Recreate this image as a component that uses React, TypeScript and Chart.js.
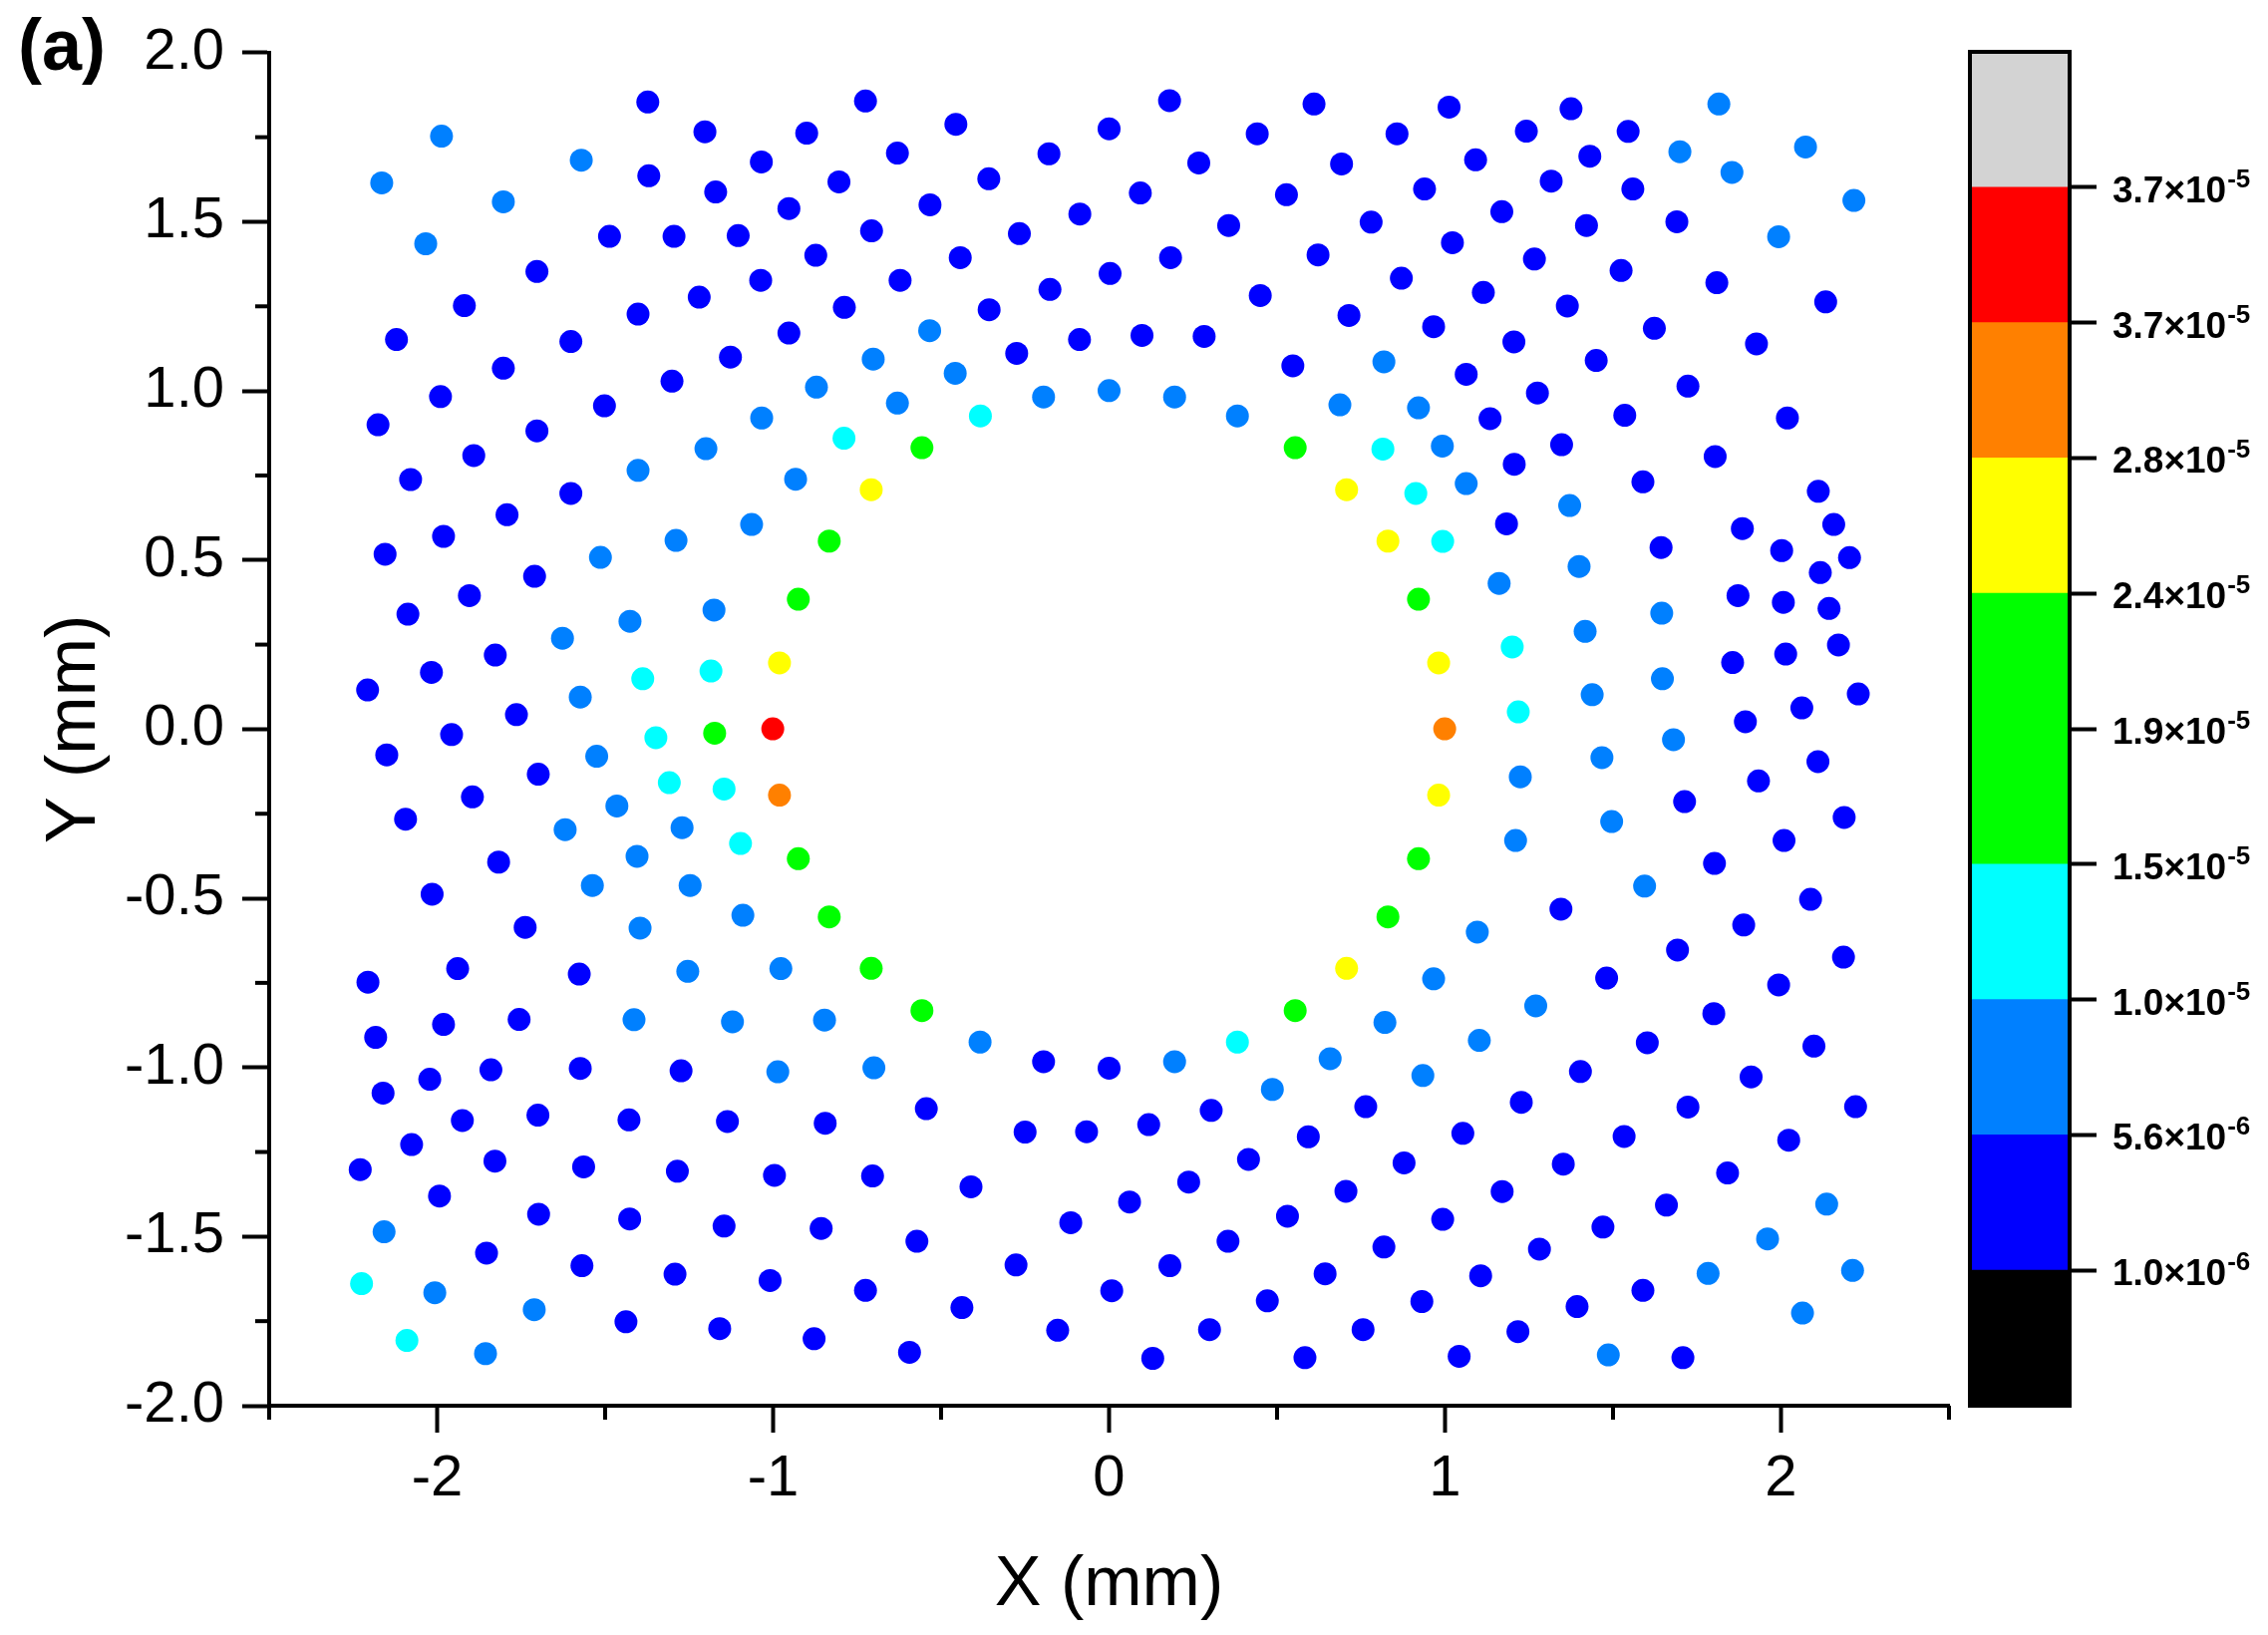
import { useEffect, useRef } from "react";
import Chart from "chart.js/auto";

const FONT = '"Liberation Sans", Arial, sans-serif';

const xMajorTicks = [-2, -1, 0, 1, 2];
const xMinorTicks = [-2.5, -1.5, -0.5, 0.5, 1.5, 2.5];
const yMajorTicks = [-2, -1.5, -1, -0.5, 0, 0.5, 1, 1.5, 2];
const yMinorTicks = [-1.75, -1.25, -0.75, -0.25, 0.25, 0.75, 1.25, 1.75];

// points, grouped by colour band [x, y] in mm
const bluePoints = [
  [-1.373, 1.854], [-1.203, 1.766], [-0.9, 1.762], [-1.37, 1.636], [-1.035, 1.677], [-1.171, 1.588], [-0.804, 1.618],
  [-0.953, 1.539], [-1.487, 1.457], [-1.295, 1.457], [-1.104, 1.459], [-0.873, 1.401], [-1.703, 1.353], [-1.037, 1.327],
  [-1.22, 1.277], [-1.402, 1.227], [-1.919, 1.252], [-0.788, 1.247], [-2.121, 1.152], [-1.602, 1.146], [-0.953, 1.171],
  [-1.127, 1.1], [-1.803, 1.067], [-1.301, 1.029], [-1.99, 0.983], [-1.502, 0.956], [-2.176, 0.9], [-1.703, 0.882],
  [-1.891, 0.809], [-2.079, 0.738], [-1.602, 0.697], [-1.792, 0.634], [-1.981, 0.57], [-2.155, 0.517], [-1.71, 0.452],
  [-1.904, 0.395], [-2.087, 0.34], [-1.827, 0.219], [-2.017, 0.168], [-2.207, 0.116], [-1.764, 0.043], [-1.957, -0.016],
  [-2.15, -0.076], [-1.699, -0.133], [-1.895, -0.2], [-2.094, -0.266], [-1.817, -0.393], [-2.015, -0.488], [-1.738, -0.586],
  [-1.939, -0.708], [-1.577, -0.724], [-2.206, -0.748], [-1.756, -0.858], [-1.981, -0.873], [-2.183, -0.911], [-1.574, -1.003],
  [-1.84, -1.007], [-1.274, -1.01], [-2.022, -1.035], [-2.161, -1.076], [-1.7, -1.141], [-1.925, -1.157], [-1.429, -1.155],
  [-1.136, -1.16], [-0.845, -1.165], [-2.076, -1.228], [-2.229, -1.302], [-1.828, -1.277], [-1.564, -1.294], [-1.285, -1.307],
  [-0.996, -1.319], [-1.993, -1.38], [-1.698, -1.434], [-1.427, -1.448], [-1.146, -1.469], [-0.857, -1.476], [-1.853, -1.549],
  [-1.569, -1.586], [-1.292, -1.611], [-1.009, -1.63], [-1.438, -1.752], [-1.159, -1.772], [-0.878, -1.802],
  [-0.725, 1.857], [-0.456, 1.788], [-0.63, 1.703], [-0.179, 1.701], [0, 1.775], [0.18, 1.858], [0.61, 1.848], [0.441, 1.76],
  [0.857, 1.76], [0.267, 1.674], [0.692, 1.671], [-0.358, 1.627], [0.093, 1.585], [-0.533, 1.55], [-0.087, 1.523], [0.528, 1.58],
  [0.356, 1.489], [0.78, 1.499], [-0.707, 1.473], [-0.267, 1.465], [-0.443, 1.394], [0.183, 1.394], [0.622, 1.402], [-0.622, 1.327],
  [0.003, 1.347], [-0.176, 1.3], [0.45, 1.282], [0.87, 1.333], [-0.357, 1.24], [0.714, 1.223], [-0.088, 1.152], [0.098, 1.164],
  [0.283, 1.161], [-0.275, 1.111], [0.547, 1.074],
  [-0.195, -0.983], [0, -1.002], [-0.544, -1.122], [0.764, -1.116], [-0.25, -1.191], [-0.067, -1.19], [0.118, -1.169],
  [0.304, -1.127], [0.593, -1.205], [0.415, -1.272], [-0.704, -1.321], [-0.411, -1.353], [0.237, -1.339], [0.878, -1.282],
  [0.061, -1.398], [-0.114, -1.459], [0.705, -1.366], [0.531, -1.44], [-0.572, -1.514], [0.354, -1.514], [-0.277, -1.584],
  [0.818, -1.531], [0.181, -1.586], [0.643, -1.61], [0.008, -1.66], [-0.725, -1.659], [0.471, -1.69], [-0.438, -1.71],
  [0.299, -1.775], [0.756, -1.775], [-0.153, -1.777], [-0.594, -1.842], [0.13, -1.86], [0.583, -1.858],
  [1.012, 1.839], [1.375, 1.834], [1.242, 1.768], [1.545, 1.767], [1.091, 1.683], [1.431, 1.694], [0.939, 1.597], [1.316, 1.62],
  [1.559, 1.597], [1.169, 1.53], [1.69, 1.5], [1.421, 1.489], [1.022, 1.438], [1.266, 1.39], [1.524, 1.356], [1.809, 1.32],
  [1.114, 1.291], [1.364, 1.251], [2.133, 1.263], [0.966, 1.19], [1.623, 1.185], [1.205, 1.145], [1.927, 1.139], [1.45, 1.09],
  [1.063, 1.049], [1.723, 1.014], [1.275, 0.994], [1.134, 0.918], [1.535, 0.928], [2.019, 0.92], [1.347, 0.841], [1.206, 0.783],
  [1.804, 0.806], [1.589, 0.731], [2.111, 0.703], [1.183, 0.607], [1.885, 0.593], [2.157, 0.605], [1.643, 0.537], [2.002, 0.528],
  [2.204, 0.507], [2.117, 0.463], [1.872, 0.395], [2.007, 0.375], [2.143, 0.357], [2.171, 0.249], [1.856, 0.197], [2.014, 0.222],
  [2.23, 0.104], [2.062, 0.063], [1.894, 0.022], [2.11, -0.096], [1.933, -0.153], [1.713, -0.214], [2.188, -0.261], [2.009, -0.329],
  [1.802, -0.397], [2.088, -0.503], [1.345, -0.532], [1.889, -0.579], [1.692, -0.653], [2.186, -0.674], [1.481, -0.736],
  [1.993, -0.756], [1.8, -0.841], [1.602, -0.927], [2.098, -0.937], [1.403, -1.012], [1.911, -1.028], [1.227, -1.103], [1.723, -1.117],
  [2.222, -1.116], [1.053, -1.195], [1.533, -1.204], [2.023, -1.215], [1.352, -1.286], [1.841, -1.312], [1.17, -1.367], [1.659, -1.407],
  [0.993, -1.449], [1.47, -1.472], [1.281, -1.537], [1.106, -1.616], [1.589, -1.659], [0.931, -1.692], [1.393, -1.707], [1.217, -1.781],
  [1.042, -1.854], [1.708, -1.858],
];
const azurePoints = [
  [-1.987, 1.753], [-1.571, 1.682], [-2.165, 1.615], [-1.803, 1.559], [-2.034, 1.435], [-0.871, 1.011], [-1.034, 0.92], [-1.2, 0.829],
  [-1.402, 0.765], [-0.933, 0.739], [-1.064, 0.605], [-1.289, 0.558], [-1.514, 0.508], [-1.176, 0.352], [-1.426, 0.319], [-1.627, 0.269],
  [-1.574, 0.095], [-1.525, -0.08], [-1.465, -0.227], [-1.619, -0.297], [-1.271, -0.291], [-1.405, -0.376], [-1.538, -0.462], [-1.247, -0.462],
  [-1.09, -0.55], [-1.396, -0.588], [-1.254, -0.716], [-0.977, -0.708], [-1.414, -0.859], [-1.121, -0.865], [-0.847, -0.86], [-0.986, -1.013],
  [-2.158, -1.486], [-2.007, -1.666], [-1.711, -1.716], [-1.856, -1.846],
  [-0.534, 1.178], [-0.702, 1.094], [-0.458, 1.052], [0.818, 1.086], [-0.63, 0.964], [-0.195, 0.982], [0, 1.001], [0.195, 0.982], [0.382, 0.926],
  [0.687, 0.959], [-0.7, -1.001], [-0.384, -0.925], [0.195, -0.983], [0.821, -0.867], [0.658, -0.974], [0.486, -1.065],
  [1.815, 1.848], [2.073, 1.721], [1.699, 1.707], [1.854, 1.646], [2.217, 1.563], [1.993, 1.456], [0.921, 0.95], [0.992, 0.837], [1.063, 0.726],
  [1.371, 0.661], [1.399, 0.481], [1.161, 0.431], [1.645, 0.343], [1.417, 0.289], [1.647, 0.149], [1.438, 0.102], [1.68, -0.031], [1.467, -0.084],
  [1.224, -0.141], [1.496, -0.273], [1.21, -0.329], [1.594, -0.464], [1.096, -0.6], [0.966, -0.738], [1.27, -0.818], [1.102, -0.92], [0.934, -1.024],
  [2.136, -1.404], [1.96, -1.507], [1.783, -1.609], [2.213, -1.6], [2.064, -1.726], [1.486, -1.85],
];
const cyanPoints = [
  [-0.789, 0.86], [-1.185, 0.172], [-1.388, 0.149], [-1.349, -0.025], [-1.309, -0.158], [-1.146, -0.177], [-1.097, -0.338], [-2.225, -1.639],
  [-2.09, -1.807], [-0.383, 0.926], [0.815, 0.828], [0.913, 0.697], [0.993, 0.555], [1.2, 0.243], [1.218, 0.051], [0.382, -0.925],
];
const greenPoints = [
  [-0.833, 0.556], [-0.925, 0.384], [-1.174, -0.012], [-0.925, -0.383], [-0.833, -0.555], [-0.557, 0.832], [0.554, 0.832], [0.921, 0.384],
  [0.921, -0.383], [0.83, -0.555], [-0.708, -0.707], [-0.557, -0.832], [0.554, -0.832],
];
const yellowPoints = [
  [-0.981, 0.196], [-0.708, 0.708], [0.707, 0.708], [0.83, 0.556], [0.981, 0.196], [0.981, -0.195], [0.707, -0.707],
];
const orangePoints = [[-0.981, -0.195], [0.999, 0.001]];
const redPoints = [[-1.001, 0.001]];

// colour bar, bottom to top
const bandColors = ["#000000", "#0000ff", "#0080ff", "#00ffff", "#00ff00", "#00ff00", "#ffff00", "#ff8000", "#ff0000", "#d3d3d3"];
const barTicks = [1, 2, 3, 4, 5, 6, 7, 8, 9];
const barMantissas = ["1.0", "5.6", "1.0", "1.5", "1.9", "2.4", "2.8", "3.7", "3.7"];
const barExponents = ["-6", "-6", "-5", "-5", "-5", "-5", "-5", "-5", "-5"];

const asDataset = (pts: number[][], color: string) => ({
  data: pts.map(([x, y]) => ({ x, y })),
  backgroundColor: color,
  pointBackgroundColor: color,
  pointRadius: 11.5,
  pointBorderWidth: 0,
  showLine: false,
});

const minorTicksPlugin = {
  id: "minorTicks",
  afterDraw(chart: any) {
    const { ctx, scales } = chart;
    ctx.save();
    ctx.strokeStyle = "#000";
    ctx.lineWidth = 4;
    for (const v of xMinorTicks) {
      const px = scales.x.getPixelForValue(v);
      ctx.beginPath();
      ctx.moveTo(px, scales.x.top);
      ctx.lineTo(px, scales.x.top + 14);
      ctx.stroke();
    }
    for (const v of yMinorTicks) {
      const py = scales.y.getPixelForValue(v);
      ctx.beginPath();
      ctx.moveTo(scales.y.right, py);
      ctx.lineTo(scales.y.right - 14, py);
      ctx.stroke();
    }
    // panel letter
    ctx.fillStyle = "#000";
    ctx.font = `bold 72px ${FONT}`;
    ctx.textBaseline = "alphabetic";
    ctx.fillText("(a)", 18, 70);
    ctx.restore();
  },
};

const barLabelsPlugin = {
  id: "barLabels",
  afterDraw(chart: any) {
    const { ctx, scales, chartArea } = chart;
    ctx.save();
    ctx.strokeStyle = "#000";
    ctx.lineWidth = 4;
    ctx.strokeRect(chartArea.left, chartArea.top, chartArea.right - chartArea.left, chartArea.bottom - chartArea.top);
    ctx.fillStyle = "#000";
    ctx.textBaseline = "alphabetic";
    barTicks.forEach((v, i) => {
      const py = scales.y.getPixelForValue(v);
      const x = chartArea.right + 43;
      const main = `${barMantissas[i]}×10`;
      ctx.font = `bold 37px ${FONT}`;
      ctx.fillText(main, x, py + 15);
      const w = ctx.measureText(main).width;
      ctx.font = `bold 26px ${FONT}`;
      ctx.fillText(barExponents[i], x + w + 1, py);
    });
    ctx.restore();
  },
};

export default function App() {
  const plotRef = useRef<HTMLCanvasElement | null>(null);
  const barRef = useRef<HTMLCanvasElement | null>(null);

  useEffect(() => {
    document.body.style.margin = "0";
    document.body.style.background = "#fff";
    if (!plotRef.current || !barRef.current) return;

    const tickFont = { family: FONT, size: 58 };
    const titleFont = { family: FONT, size: 70, lineHeight: 1.2 };

    const plot = new Chart(plotRef.current, {
      type: "scatter",
      data: {
        datasets: [
          asDataset(bluePoints, "#0000ff"),
          asDataset(azurePoints, "#0080ff"),
          asDataset(cyanPoints, "#00ffff"),
          asDataset(greenPoints, "#00ff00"),
          asDataset(yellowPoints, "#ffff00"),
          asDataset(orangePoints, "#ff8000"),
          asDataset(redPoints, "#ff0000"),
        ],
      },
      options: {
        animation: false,
        responsive: false,
        devicePixelRatio: 1,
        layout: { padding: { left: 0, top: 52, right: 320, bottom: 0 } },
        plugins: { legend: { display: false }, tooltip: { enabled: false } },
        scales: {
          x: {
            type: "linear",
            min: -2.5,
            max: 2.5,
            afterBuildTicks: (s: any) => {
              s.ticks = xMajorTicks.map((value) => ({ value }));
            },
            afterFit: (s: any) => {
              s.height = 230;
            },
            border: { display: true, color: "#000", width: 4 },
            grid: { drawOnChartArea: false, drawTicks: true, tickLength: 27, tickWidth: 4, tickColor: "#000" },
            ticks: {
              color: "#000",
              font: tickFont,
              padding: 12,
              autoSkip: false,
              maxRotation: 0,
              minRotation: 0,
              callback: (v: any) => String(v),
            },
            title: { display: true, text: "X (mm)", color: "#000", font: titleFont, padding: { top: 0, bottom: 7 } },
          },
          y: {
            type: "linear",
            min: -2,
            max: 2,
            afterBuildTicks: (s: any) => {
              s.ticks = yMajorTicks.map((value) => ({ value }));
            },
            afterFit: (s: any) => {
              s.width = 270;
            },
            border: { display: true, color: "#000", width: 4 },
            grid: { drawOnChartArea: false, drawTicks: true, tickLength: 27, tickWidth: 4, tickColor: "#000" },
            ticks: {
              color: "#000",
              font: tickFont,
              padding: 18,
              autoSkip: false,
              callback: (v: any) => Number(v).toFixed(1),
            },
            title: { display: true, text: "Y (mm)", color: "#000", font: titleFont, padding: { top: 34, bottom: 0 } },
          },
        },
      },
      plugins: [minorTicksPlugin],
    } as any);

    const bar = new Chart(barRef.current, {
      type: "bar",
      data: {
        labels: [""],
        datasets: bandColors.map((color, i) => ({
          data: [[i, i + 1]],
          backgroundColor: color,
          barPercentage: 1,
          categoryPercentage: 1,
          grouped: false,
        })),
      },
      options: {
        animation: false,
        responsive: false,
        devicePixelRatio: 1,
        layout: { padding: { left: 36, top: 52, right: 0, bottom: 230 } },
        plugins: { legend: { display: false }, tooltip: { enabled: false } },
        scales: {
          x: { display: false },
          y: {
            position: "right",
            type: "linear",
            min: 0,
            max: 10,
            afterBuildTicks: (s: any) => {
              s.ticks = barTicks.map((value) => ({ value }));
            },
            afterFit: (s: any) => {
              s.width = 199;
            },
            border: { display: false },
            grid: { drawOnChartArea: false, drawTicks: true, tickLength: 27, tickWidth: 4, tickColor: "#000" },
            ticks: { display: false },
          },
        },
      },
      plugins: [barLabelsPlugin],
    } as any);

    return () => {
      plot.destroy();
      bar.destroy();
    };
  }, []);

  return (
    <div style={{ position: "relative", width: 2275, height: 1640, background: "#fff" }}>
      <canvas ref={plotRef} width={2275} height={1640} style={{ position: "absolute", left: 0, top: 0 }} />
      <canvas ref={barRef} width={335} height={1640} style={{ position: "absolute", left: 1940, top: 0 }} />
    </div>
  );
}
